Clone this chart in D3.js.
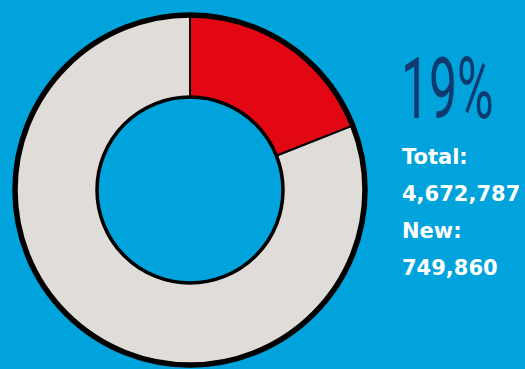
<!DOCTYPE html>
<html>
<head>
<meta charset="utf-8">
<script src="https://cdn.jsdelivr.net/npm/d3@7/dist/d3.min.js"></script>
<style>
  html, body { margin: 0; padding: 0; background: #00A3DC; }
  svg { display: block; }
</style>
</head>
<body>
<svg id="chart" width="525" height="369"></svg>
<script>
// Share of new entries in the total
const shareLabels = ["New", "Existing"];
const sharePercent = [19, 81];
const statLabels = ["Total:", "New:"];
const statValues = [4672787, 749860];

const colors = d3.scaleOrdinal().domain(shareLabels).range(["#E30613", "#E0DCD8"]);

const svg = d3.select("#chart");
const cx = 190, cy = 190;
const outerR = 175, innerR = 93;

const pie = d3.pie().sort(null).value(d => d)(sharePercent);
const arc = d3.arc().innerRadius(innerR).outerRadius(outerR);

const g = svg.append("g").attr("transform", `translate(${cx},${cy})`);

g.selectAll("path.slice")
  .data(pie)
  .join("path")
  .attr("class", "slice")
  .attr("d", arc)
  .attr("fill", (d, i) => colors(shareLabels[i]))
  .attr("stroke", "#000")
  .attr("stroke-width", 2)
  .attr("stroke-linejoin", "round");

// heavier outlines on the ring edges
g.append("circle").attr("r", outerR).attr("fill", "none")
  .attr("stroke", "#000").attr("stroke-width", 5.5);
g.append("circle").attr("r", innerR).attr("fill", "none")
  .attr("stroke", "#000").attr("stroke-width", 3.5);

// headline percentage
svg.append("text")
  .attr("transform", "translate(401,118) scale(0.58,1)")
  .attr("font-family", "Roboto")
  .attr("font-weight", 400)
  .attr("font-size", 86)
  .attr("fill", "#0F3A70")
  .text(d3.format("d")(sharePercent[0]) + "%");

// totals block
const fmt = d3.format(",");
const lines = [statLabels[0], fmt(statValues[0]), statLabels[1], fmt(statValues[1])];
svg.selectAll("text.stat")
  .data(lines)
  .join("text")
  .attr("class", "stat")
  .attr("x", 402)
  .attr("y", (d, i) => 164 + i * 37)
  .attr("font-family", "DejaVu Sans")
  .attr("font-weight", "bold")
  .attr("font-size", 21)
  .attr("fill", "#fff")
  .text(d => d);
</script>
</body>
</html>
